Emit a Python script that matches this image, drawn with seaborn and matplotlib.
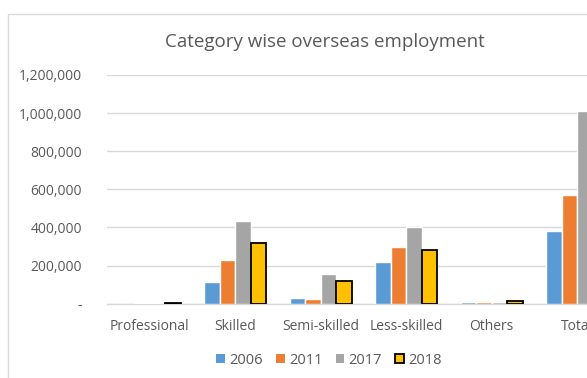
import matplotlib
matplotlib.use("Agg")
import matplotlib.pyplot as plt
import seaborn as sns
import pandas as pd
from matplotlib.patches import Patch, Rectangle
from matplotlib.ticker import FuncFormatter

categories = ["Professional", "Skilled", "Semi-skilled", "Less-skilled", "Others", "Total"]
years = ["2006", "2011", "2017", "2018"]
v2006 = [925, 115468, 32000, 221000, 8000, 381516]
v2011 = [1192, 229000, 25000, 298000, 8000, 568062]
v2017 = [1300, 433000, 154000, 401000, 9000, 1008525]
v2018 = [5000, 321000, 118000, 283000, 13000, 734181]
colors = ["#5B9BD5", "#ED7D31", "#A5A5A5", "#FFC000"]
title = "Category wise overseas employment"

rows = []
for y, vals in zip(years, [v2006, v2011, v2017, v2018]):
    for c, v in zip(categories, vals):
        rows.append({"Category": c, "Year": y, "Value": v})
df = pd.DataFrame(rows)

sns.set_style("white")
plt.rcParams["font.family"] = ["Open Sans", "DejaVu Sans"]
txt = "#595959"
grid = "#D9D9D9"

fig = plt.figure(figsize=(5.87, 3.78), dpi=100)
fig.patch.set_facecolor("white")
# chart border
fig.patches.append(Rectangle((8 / 587, -0.1), 2.0, (378 - 14) / 378 + 0.1,
                             transform=fig.transFigure, fill=False,
                             edgecolor=grid, linewidth=1.0))

ax = fig.add_axes([107 / 587, 1 - 303.7 / 378, 513 / 587, (303.7 - 75) / 378])
sns.barplot(data=df, x="Category", y="Value", hue="Year", order=categories,
            hue_order=years, palette=colors, width=0.725, gap=0,
            saturation=1, ax=ax, legend=False)
for p in ax.containers[3]:
    p.set_edgecolor("black")
    p.set_linewidth(1.3)

ax.set_ylim(0, 1200000)
ax.set_xlim(-0.5, len(categories) - 0.5)
ax.set_yticks(range(0, 1200001, 200000))
ax.yaxis.set_major_formatter(FuncFormatter(lambda v, p: "-" if v == 0 else f"{int(v):,}"))
ax.grid(axis="y", color=grid, linewidth=1.0)
ax.set_axisbelow(True)
for s in ["top", "right", "left"]:
    ax.spines[s].set_visible(False)
ax.spines["bottom"].set_color(grid)
ax.spines["bottom"].set_linewidth(1.0)
ax.spines["bottom"].set_zorder(0.5)
ax.tick_params(axis="y", length=0, pad=18, labelsize=10, labelcolor=txt)
ax.tick_params(axis="x", length=0, pad=11, labelsize=10, labelcolor=txt)
ax.set_xlabel("")
ax.set_ylabel("")

fig.text(325 / 587, 1 - 42 / 378, title, ha="center", va="center",
         fontsize=13.5, color=txt)

handles = [Patch(facecolor=colors[i], edgecolor="black" if i == 3 else colors[i],
                 linewidth=1.3 if i == 3 else 0) for i in range(4)]
fig.legend(handles, years, loc="center", bbox_to_anchor=(329 / 587, 1 - 360 / 378),
           ncol=4, frameon=False, fontsize=10.5, labelcolor=txt,
           handlelength=0.6, handleheight=0.6, handletextpad=0.3,
           columnspacing=0.9)

fig.savefig("out.png", dpi=100)
